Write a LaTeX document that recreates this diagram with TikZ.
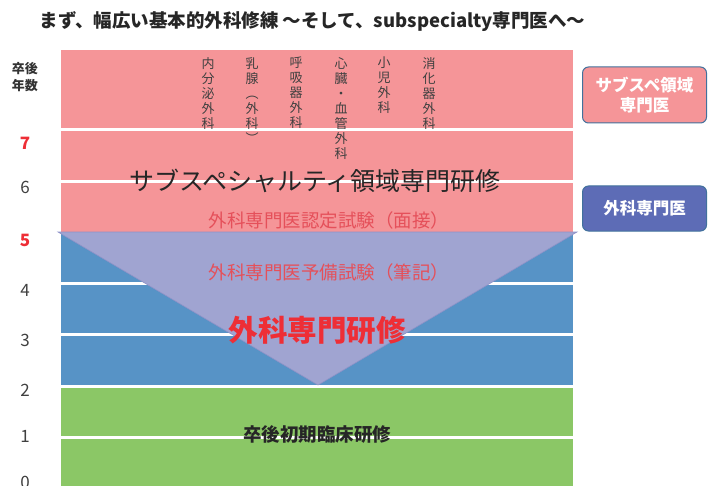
\documentclass[tikz,border=0pt]{standalone}
\usepackage{fontspec}
\newfontfamily\jp{Noto Sans CJK JP}
\setmainfont{Noto Sans CJK JP}
\definecolor{bandpink}{HTML}{F59598}
\definecolor{bandblue}{HTML}{5793C6}
\definecolor{bandgreen}{HTML}{8BC766}
\definecolor{trifill}{HTML}{A0A4D1}
\definecolor{triline}{HTML}{8E92C8}
\definecolor{redtxt}{HTML}{EE2E36}
\definecolor{softred}{HTML}{E5505A}
\definecolor{boxline}{HTML}{41719C}
\definecolor{boxblue}{HTML}{5D6CB6}
\definecolor{greytxt}{HTML}{404040}
\begin{document}
\begin{tikzpicture}[x=1pt,y=-1pt,
  vtext/.style={anchor=north,align=center,inner sep=0pt,text=greytxt,font=\fontsize{13}{15}\selectfont},
  yearnum/.style={anchor=center,text=greytxt,font=\fontsize{17}{17}\selectfont},
  redyear/.style={anchor=center,text=redtxt,font=\fontsize{17}{17}\selectfont\bfseries},
  sidebox/.style={rounded corners=6pt,draw=boxline,line width=1pt,align=center,text=white,font=\fontsize{16.5}{20}\selectfont\bfseries}]
\useasboundingbox (0,0) rectangle (708,486);
% bands
\fill[bandpink] (61,50) rectangle (573,128);
\fill[bandpink] (61,131) rectangle (573,180);
\fill[bandpink] (61,183) rectangle (573,232);
\fill[bandblue] (61,233) rectangle (573,282);
\fill[bandblue] (61,285) rectangle (573,333);
\fill[bandblue] (61,336) rectangle (573,385);
\fill[bandgreen] (61,388) rectangle (573,436);
\fill[bandgreen] (61,439) rectangle (573,490);
% triangle
\draw[fill=trifill,draw=triline,line width=0.6pt] (58,232) -- (577,232) -- (318,385) -- cycle;
% title
\node[anchor=west,font=\fontsize{18.5}{18.5}\selectfont\bfseries,text=black!85] (title) at (36,22) {まず、幅広い基本的外科修練 ～そして、subspecialty専門医へ～};
% left axis
\node[align=center,font=\fontsize{13}{17}\selectfont\bfseries,text=black!80] (axlabel) at (25,77) {卒後\\年数};
\node[redyear] (y7) at (25,143) {7};
\node[yearnum] (y6) at (25,187) {6};
\node[redyear] (y5) at (25,240) {5};
\node[yearnum] (y4) at (25,290) {4};
\node[yearnum] (y3) at (25,340) {3};
\node[yearnum] (y2) at (25,390) {2};
\node[yearnum] (y1) at (25,436) {1};
\node[yearnum] (y0) at (25,482) {0};
% vertical specialty texts
\node[vtext] (v1) at (208,57) {内\\分\\泌\\外\\科};
\node[vtext] (v2) at (252,57) {乳\\腺\\︵\\外\\科\\︶};
\node[vtext] (v3) at (296,57) {呼\\吸\\器\\外\\科};
\node[vtext] (v4) at (341,57) {心\\臓\\・\\血\\管\\外\\科};
\node[vtext] (v5) at (384,57) {小\\児\\外\\科};
\node[vtext] (v6) at (429,57) {消\\化\\器\\外\\科};
% band labels
\node[font=\fontsize{25}{25}\selectfont,text=black!85] (subsp) at (315,181) {サブスペシャルティ領域専門研修};
\node[font=\fontsize{18.5}{19}\selectfont,text=softred] (exam2) at (329,220) {外科専門医認定試験（面接）};
\node[font=\fontsize{18.5}{19}\selectfont,text=softred] (exam1) at (329,272) {外科専門医予備試験（筆記）};
\node[font=\fontsize{29.5}{30}\selectfont\bfseries,text=redtxt] (surg) at (317,330) {外科専門研修};
\node[font=\fontsize{18.5}{19}\selectfont\bfseries,text=black!85] (init) at (317,434) {卒後初期臨床研修};
% side boxes
\node[sidebox,fill=bandpink,minimum width=124pt,minimum height=56pt] (box1) at (644.5,95) {サブスペ領域\\専門医};
\node[sidebox,fill=boxblue,minimum width=124pt,minimum height=45pt] (box2) at (644.5,208.5) {外科専門医};
\end{tikzpicture}
\end{document}
